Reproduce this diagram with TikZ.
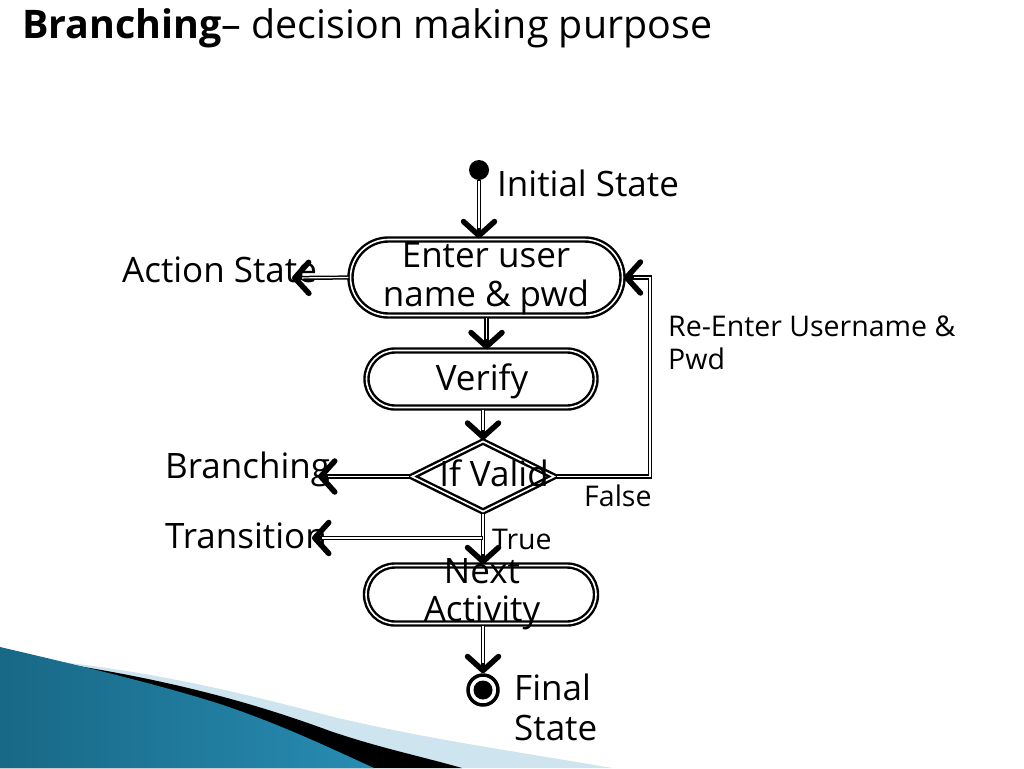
\documentclass[tikz,border=0pt]{standalone}
\usepackage{fontspec}
\setmainfont{Open Sans}
\usetikzlibrary{arrows.meta,shapes.misc,shapes.geometric,calc}
\definecolor{tealdark}{RGB}{24,104,134}
\definecolor{tealmid}{RGB}{78,176,210}
\definecolor{tealright}{RGB}{40,140,178}
\definecolor{paleblue}{RGB}{206,228,238}
\begin{document}
\begin{tikzpicture}[x=1pt,y=-1pt,
  box/.style={rounded rectangle, draw, double=white, double distance=1.6pt, line width=2.4pt, inner sep=0pt},
  dia/.style={diamond, draw, double=white, double distance=1.6pt, line width=2.4pt, inner sep=0pt},
  flow/.style={line width=4.2pt, -{Straight Barb[length=14pt,width=31pt,line width=5.5pt,round]},
     postaction={draw=white, line width=1.2pt, -, shorten >=10pt, shorten <=1pt}},
  big/.style={font=\fontsize{35}{40}\selectfont, inner sep=0pt},
  small/.style={font=\fontsize{28.5}{32}\selectfont, inner sep=0pt},
  title/.style={font=\fontsize{39.4}{44}\selectfont, inner sep=0pt}]
\useasboundingbox (0,0) rectangle (1024,768);
% background decoration
\fill[paleblue] (0,650) -- (40,660) .. controls (150,670) and (250,695) .. (330,716) .. controls (420,738) and (520,752) .. (612,768) -- (0,768) -- cycle;
\fill[black] (0,650) -- (40,660) .. controls (120,672) and (220,690) .. (330,731) .. controls (380,748) and (420,756) .. (462,768) -- (0,768) -- cycle;
\shade[left color=tealdark, middle color=tealmid, right color=tealright]
  (0,647) .. controls (90,668) and (160,685) .. (220,704) .. controls (280,724) and (330,748) .. (374,768) -- (0,768) -- cycle;
% title
\node[title, anchor=base west] (ttl) at (22,38) {\textbf{Branching}– decision making purpose};
% shapes
\node[circle, fill=black, minimum size=20pt, inner sep=0pt] (init) at (479,170) {};
\node[box, minimum width=272pt, minimum height=76pt] (enter) at (486.5,277.5) {};
\node[box, minimum width=229pt, minimum height=57pt] (verify) at (481,379) {};
\node[dia, minimum width=143pt, minimum height=71pt] (valid) at (483,476.5) {};
\node[box, minimum width=230pt, minimum height=58pt] (next) at (481,594.5) {};
\node[circle, draw, line width=3.5pt, minimum size=30pt, inner sep=0pt] (final) at (483,690) {};
\node[circle, fill=black, minimum size=19pt, inner sep=0pt] (finaldot) at (final) {};
% texts inside shapes
\node[big, anchor=base] (t1) at (486,267) {Enter user};
\node[big, anchor=base] (t2) at (486,306) {name \& pwd};
\node[big, anchor=base] (t3) at (482,390) {Verify};
\node[big, anchor=base] (t4) at (494,486) {If Valid};
\node[big, anchor=base] (t5) at (482,583) {Next};
\node[big, anchor=base] (t6) at (482,621) {Activity};
% labels
\node[big, anchor=base west] (linit) at (497,196) {Initial State};
\node[big, anchor=base west] (lact) at (122,282) {Action State};
\node[big, anchor=base west] (lbr) at (165,478) {Branching};
\node[big, anchor=base west] (ltr) at (165,548) {Transition};
\node[big, anchor=base west] (lfin1) at (514,700) {Final};
\node[big, anchor=base west] (lfin2) at (514,740) {State};
\node[small, anchor=base west] (lre1) at (668,336) {Re-Enter Username \&};
\node[small, anchor=base west] (lre2) at (668,369) {Pwd};
\node[small, anchor=base west] (lfalse) at (584,506) {False};
\node[small, anchor=base west] (ltrue) at (492,549) {True};
% free ends
\coordinate (acttip) at (292,278);
\coordinate (brtip) at (318,476.5);
\coordinate (trtip) at (312,538);
\coordinate (trsrc) at (483,538);
\coordinate (loopc) at (650,277.5);
% connectors
\draw[flow] (init) -- (init |- enter.north);
\draw[flow] (enter.south) -- (enter.south |- verify.north);
\draw[flow] (valid.north |- verify.south) -- (valid.north);
\draw[flow] (enter.west) -- (acttip);
\draw[flow] (valid.west) -- (brtip);
\draw[flow] (valid.east) -| (loopc) -- (enter.east);
\draw[flow] (valid.south) -- (valid.south |- next.north);
\draw[flow] (trsrc) -- (trtip);
\draw[flow] (final.north |- next.south) -- (final.north);
\end{tikzpicture}
\end{document}
